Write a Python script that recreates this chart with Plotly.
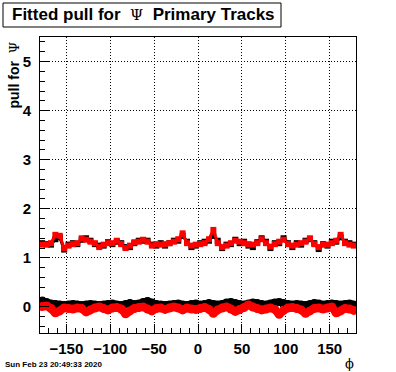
import plotly.graph_objects as go

# bin centres (5 degree bins)
phi = [-177.5 + 5 * i for i in range(72)]

red_upper = [1.27, 1.27, 1.30, 1.47, 1.45, 1.20, 1.25, 1.28, 1.30, 1.40,
             1.37, 1.33, 1.30, 1.22, 1.27, 1.30, 1.30, 1.35, 1.28, 1.20,
             1.25, 1.32, 1.33, 1.37, 1.33, 1.25, 1.28, 1.27, 1.28, 1.30,
             1.33, 1.38, 1.50, 1.30, 1.25, 1.27, 1.28, 1.30, 1.38, 1.57,
             1.30, 1.22, 1.25, 1.30, 1.35, 1.33, 1.30, 1.28, 1.27, 1.30,
             1.38, 1.30, 1.23, 1.28, 1.33, 1.37, 1.28, 1.25, 1.27, 1.30,
             1.33, 1.40, 1.28, 1.22, 1.27, 1.27, 1.30, 1.35, 1.47, 1.30,
             1.27, 1.25]

black_upper = [1.30, 1.28, 1.27, 1.38, 1.42, 1.17, 1.27, 1.30, 1.28, 1.37,
               1.40, 1.35, 1.28, 1.25, 1.25, 1.32, 1.28, 1.33, 1.30, 1.22,
               1.22, 1.30, 1.35, 1.35, 1.35, 1.27, 1.25, 1.30, 1.25, 1.30,
               1.35, 1.35, 1.45, 1.33, 1.22, 1.25, 1.30, 1.33, 1.35, 1.45,
               1.35, 1.20, 1.27, 1.28, 1.37, 1.30, 1.33, 1.25, 1.22, 1.32,
               1.40, 1.33, 1.20, 1.30, 1.30, 1.40, 1.30, 1.22, 1.30, 1.27,
               1.35, 1.38, 1.30, 1.18, 1.28, 1.25, 1.33, 1.33, 1.42, 1.33,
               1.30, 1.27]

black_lower = [0.13, 0.10, 0.07, 0.06, 0.05, 0.04, 0.05, 0.06, 0.05, 0.04,
               0.05, 0.06, 0.05, 0.04, 0.05, 0.06, 0.07, 0.05, 0.04, 0.06,
               0.08, 0.06, 0.07, 0.10, 0.12, 0.09, 0.06, 0.05, 0.04, 0.05,
               0.06, 0.07, 0.05, 0.04, 0.06, 0.07, 0.05, 0.06, 0.08, 0.06,
               0.05, 0.06, 0.09, 0.10, 0.08, 0.06, 0.05, 0.07, 0.09, 0.08,
               0.06, 0.05, 0.07, 0.09, 0.10, 0.08, 0.06, 0.05, 0.06, 0.05,
               0.04, 0.06, 0.08, 0.07, 0.05, 0.06, 0.07, 0.06, 0.05, 0.06,
               0.07, 0.05]

red_lower = [0.01, 0.02, -0.03, -0.12, -0.08, -0.02, -0.03, -0.04, -0.02, -0.03,
             -0.10, -0.06, -0.02, 0.00, -0.03, -0.06, -0.02, -0.01, -0.04, -0.14,
             -0.08, -0.03, -0.01, 0.00, -0.04, -0.08, -0.03, -0.02, -0.05, -0.02,
             0.00, -0.02, -0.06, -0.02, -0.04, -0.05, -0.03, -0.01, -0.05, -0.13,
             -0.06, -0.02, 0.00, -0.04, -0.09, -0.05, -0.01, 0.04, 0.00, -0.03,
             -0.06, -0.04, -0.02, -0.05, -0.15, -0.07, -0.02, -0.01, -0.03, -0.06,
             -0.13, -0.08, -0.03, -0.02, -0.04, -0.02, 0.00, -0.12, -0.08, -0.03,
             -0.04, -0.07]

x_ticks = [-150, -100, -50, 0, 50, 100, 150]
y_ticks = [0, 1, 2, 3, 4, 5]

fig = go.Figure()

fig.add_trace(go.Scatter(x=phi, y=black_upper, mode="lines+markers",
                         line=dict(color="black", width=3),
                         marker=dict(symbol="square", size=6, color="black"),
                         showlegend=False))
fig.add_trace(go.Scatter(x=phi, y=red_upper, mode="lines+markers",
                         line=dict(color="red", width=3),
                         marker=dict(symbol="square", size=6, color="red"),
                         showlegend=False))
fig.add_trace(go.Scatter(x=phi, y=black_lower, mode="lines+markers",
                         line=dict(color="black", width=7, shape="spline"),
                         marker=dict(symbol="circle", size=8, color="black"),
                         showlegend=False))
fig.add_trace(go.Scatter(x=phi, y=red_lower, mode="lines+markers",
                         line=dict(color="red", width=8, shape="spline"),
                         marker=dict(symbol="circle", size=9, color="red"),
                         showlegend=False))

L, R, T, B = 40, 40, 37, 39
W, H = 396, 372
pw, ph = W - L - R, H - T - B

def px(xp):
    return (xp - L) / pw

def py(yp):
    return (H - B - yp) / ph

axis_font = dict(family="Liberation Sans", size=15, color="black", weight="bold")

fig.update_layout(
    width=W, height=H,
    margin=dict(l=L, r=R, t=T, b=B),
    paper_bgcolor="white", plot_bgcolor="white",
    xaxis=dict(range=[-180, 180], tickvals=x_ticks, ticks="inside", ticklen=9,
               tickcolor="black", showline=True, linecolor="black", linewidth=1,
               mirror=True, showgrid=True, gridcolor="black", griddash="1px,2px",
               gridwidth=1, zeroline=False, tickfont=axis_font,
               minor=dict(dtick=10, ticks="inside", ticklen=5, tickcolor="black",
                          showgrid=False),
               ticklabelstandoff=2),
    yaxis=dict(range=[-0.53, 5.5], tickvals=y_ticks, ticks="inside", ticklen=9,
               tickcolor="black", showline=True, linecolor="black", linewidth=1,
               mirror=True, showgrid=True, gridcolor="black", griddash="1px,2px",
               gridwidth=1, zeroline=False, tickfont=axis_font,
               minor=dict(dtick=0.2, ticks="inside", ticklen=5, tickcolor="black",
                          showgrid=False),
               ticklabelstandoff=5),
)

# title box
fig.add_shape(type="rect", xref="paper", yref="paper",
              x0=px(3), x1=px(281), y0=py(27), y1=py(3),
              line=dict(color="black", width=1), fillcolor="white")
fig.add_annotation(xref="paper", yref="paper", x=px(10), y=py(15),
                   xanchor="left", yanchor="middle", showarrow=False,
                   text="<b>Fitted pull for</b>  <span style='font-family:DejaVu Serif;font-weight:normal;font-size:15px'>Ψ</span>  <b>Primary Tracks</b>",
                   font=dict(family="Liberation Sans", size=17, color="black"))

# y axis title
fig.add_annotation(xref="paper", yref="paper", x=px(14), y=py(40),
                   xanchor="center", yanchor="top", textangle=-90, showarrow=False,
                   text="<b>pull for</b>  <span style='font-family:DejaVu Serif;font-weight:normal;font-size:13px'>Ψ</span>",
                   font=dict(family="Liberation Sans", size=14, color="black"))

# x axis title
fig.add_annotation(xref="paper", yref="paper", x=px(356), y=py(363),
                   xanchor="right", yanchor="middle", showarrow=False,
                   text="ϕ",
                   font=dict(family="DejaVu Serif", size=13, color="black"))

# date stamp
fig.add_annotation(xref="paper", yref="paper", x=px(3), y=py(364),
                   xanchor="left", yanchor="middle", showarrow=False,
                   text="<b>Sun Feb 23 20:49:33 2020</b>",
                   font=dict(family="Liberation Sans", size=8, color="black"))

fig.write_html("out.html", config={"displayModeBar": False},
               post_script="document.body.style.margin='0';document.body.style.padding='0';")
